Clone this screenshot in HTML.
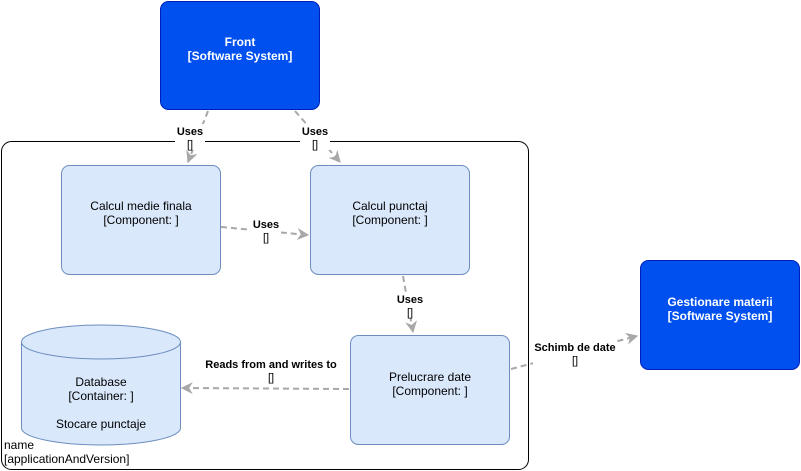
<!DOCTYPE html>
<html><head><meta charset="utf-8"><style>
html,body{margin:0;padding:0;background:#fff;}
svg{display:block;font-family:"Liberation Sans",Arial,sans-serif;}
</style></head><body>
<svg width="801" height="471" viewBox="0 0 801 471" xmlns="http://www.w3.org/2000/svg">
<defs>
<marker id="a" viewBox="0 0 10 10" refX="9" refY="5" markerWidth="6" markerHeight="6" orient="auto" markerUnits="strokeWidth">
<path d="M0,0 L10,5 L0,10 L3,5 z" fill="#a8a8a8"/>
</marker>
</defs>
<rect x="1.5" y="141.5" width="527" height="328" rx="10" fill="#fff" stroke="#000" stroke-width="1"/>
<text x="4" y="449" font-size="12" fill="#000">name</text>
<text x="4" y="463" font-size="12" fill="#000">[applicationAndVersion]</text>
<rect x="160.5" y="1.5" width="159" height="108" rx="8" fill="#0050ef" stroke="#001dbc"/>
<text x="240" y="46" font-size="12" font-weight="bold" fill="#fff" text-anchor="middle">Front</text>
<text x="240" y="60" font-size="12" font-weight="bold" fill="#fff" text-anchor="middle">[Software System]</text>
<rect x="640.5" y="260.5" width="159" height="109" rx="8" fill="#0050ef" stroke="#001dbc"/>
<text x="720" y="306" font-size="12" font-weight="bold" fill="#fff" text-anchor="middle">Gestionare materii</text>
<text x="720" y="320" font-size="12" font-weight="bold" fill="#fff" text-anchor="middle">[Software System]</text>
<rect x="61.5" y="165.5" width="159" height="109" rx="8" fill="#dae8fc" stroke="#6c8ebf"/>
<text x="141" y="210" font-size="12" fill="#000" text-anchor="middle">Calcul medie finala</text>
<text x="141" y="224" font-size="12" fill="#000" text-anchor="middle">[Component: ]</text>
<rect x="310.5" y="165.5" width="159" height="109" rx="8" fill="#dae8fc" stroke="#6c8ebf"/>
<text x="390" y="210" font-size="12" fill="#000" text-anchor="middle">Calcul punctaj</text>
<text x="390" y="224" font-size="12" fill="#000" text-anchor="middle">[Component: ]</text>
<rect x="350.5" y="335.5" width="159" height="109" rx="8" fill="#dae8fc" stroke="#6c8ebf"/>
<text x="430" y="381" font-size="12" fill="#000" text-anchor="middle">Prelucrare date</text>
<text x="430" y="395" font-size="12" fill="#000" text-anchor="middle">[Component: ]</text>
<path d="M21.5,342 A79.5,17 0 0 1 180.5,342 L180.5,428 A79.5,17 0 0 1 21.5,428 Z" fill="#dae8fc" stroke="#6c8ebf"/>
<path d="M21.5,342 A79.5,17 0 0 0 180.5,342" fill="none" stroke="#6c8ebf"/>
<text x="101" y="386" font-size="12" fill="#000" text-anchor="middle">Database</text>
<text x="101" y="400" font-size="12" fill="#000" text-anchor="middle">[Container: ]</text>
<text x="101" y="428" font-size="12" fill="#000" text-anchor="middle">Stocare punctaje</text>
<g stroke="#a8a8a8" stroke-width="2" stroke-dasharray="6,4" fill="none">
<line x1="208" y1="111" x2="188" y2="162" marker-end="url(#a)"/>
<line x1="295" y1="111" x2="340" y2="162" marker-end="url(#a)"/>
<line x1="221" y1="227" x2="308" y2="235" marker-end="url(#a)"/>
<line x1="403" y1="276" x2="413" y2="332" marker-end="url(#a)"/>
<line x1="349" y1="389" x2="182" y2="388" marker-end="url(#a)"/>
<line x1="511" y1="369" x2="637" y2="336" marker-end="url(#a)"/>
</g>
<g font-size="11" fill="#000" text-anchor="middle">
<rect x="175" y="124" width="30" height="26" fill="#fff"/>
<text x="190" y="135" font-weight="bold">Uses</text><text x="190" y="148">[]</text>
<rect x="300" y="124" width="30" height="26" fill="#fff"/>
<text x="315" y="135" font-weight="bold">Uses</text><text x="315" y="148">[]</text>
<rect x="251" y="217" width="30" height="26" fill="#fff"/>
<text x="266" y="228" font-weight="bold">Uses</text><text x="266" y="241">[]</text>
<rect x="395" y="292" width="30" height="26" fill="#fff"/>
<text x="410" y="303" font-weight="bold">Uses</text><text x="410" y="316">[]</text>
<rect x="205" y="357" width="132" height="26" fill="#fff"/>
<text x="271" y="368" font-weight="bold">Reads from and writes to</text><text x="271" y="381">[]</text>
<rect x="533" y="340" width="84" height="26" fill="#fff"/>
<text x="575" y="351" font-weight="bold">Schimb de date</text><text x="575" y="364">[]</text>
</g>
</svg>
</body></html>
